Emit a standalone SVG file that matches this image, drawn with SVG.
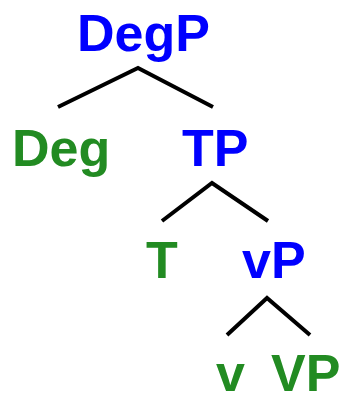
<svg xmlns="http://www.w3.org/2000/svg" width="342" height="393" viewBox="0 0 342 393">
<style>
text{font-family:"Liberation Sans",Arial,sans-serif;font-weight:bold;font-size:52px}
.phr{fill:#0000FF}
.head{fill:#228B22}
.edge{fill:none;stroke:#000;stroke-width:4;stroke-linecap:butt;stroke-linejoin:miter}
</style>
<rect width="342" height="393" fill="#fff"/>
<g id="connectors">
<polyline class="edge" points="58,107 138,68 213,107"/>
<polyline class="edge" points="162,221 212,183 268,221"/>
<polyline class="edge" points="227,335 267,298 310,335"/>
</g>
<g id="DegP"><text class="phr" x="77" y="51">DegP</text></g>
<g id="Deg"><text class="head" x="12" y="166">Deg</text></g>
<g id="TP"><text class="phr" x="182" y="166">TP</text></g>
<g id="T"><text class="head" x="146" y="278">T</text></g>
<g id="vP"><text class="phr" x="242" y="278">vP</text></g>
<g id="v"><text class="head" x="216" y="391">v</text></g>
<g id="VP"><text class="head" x="271" y="391">VP</text></g>
</svg>
